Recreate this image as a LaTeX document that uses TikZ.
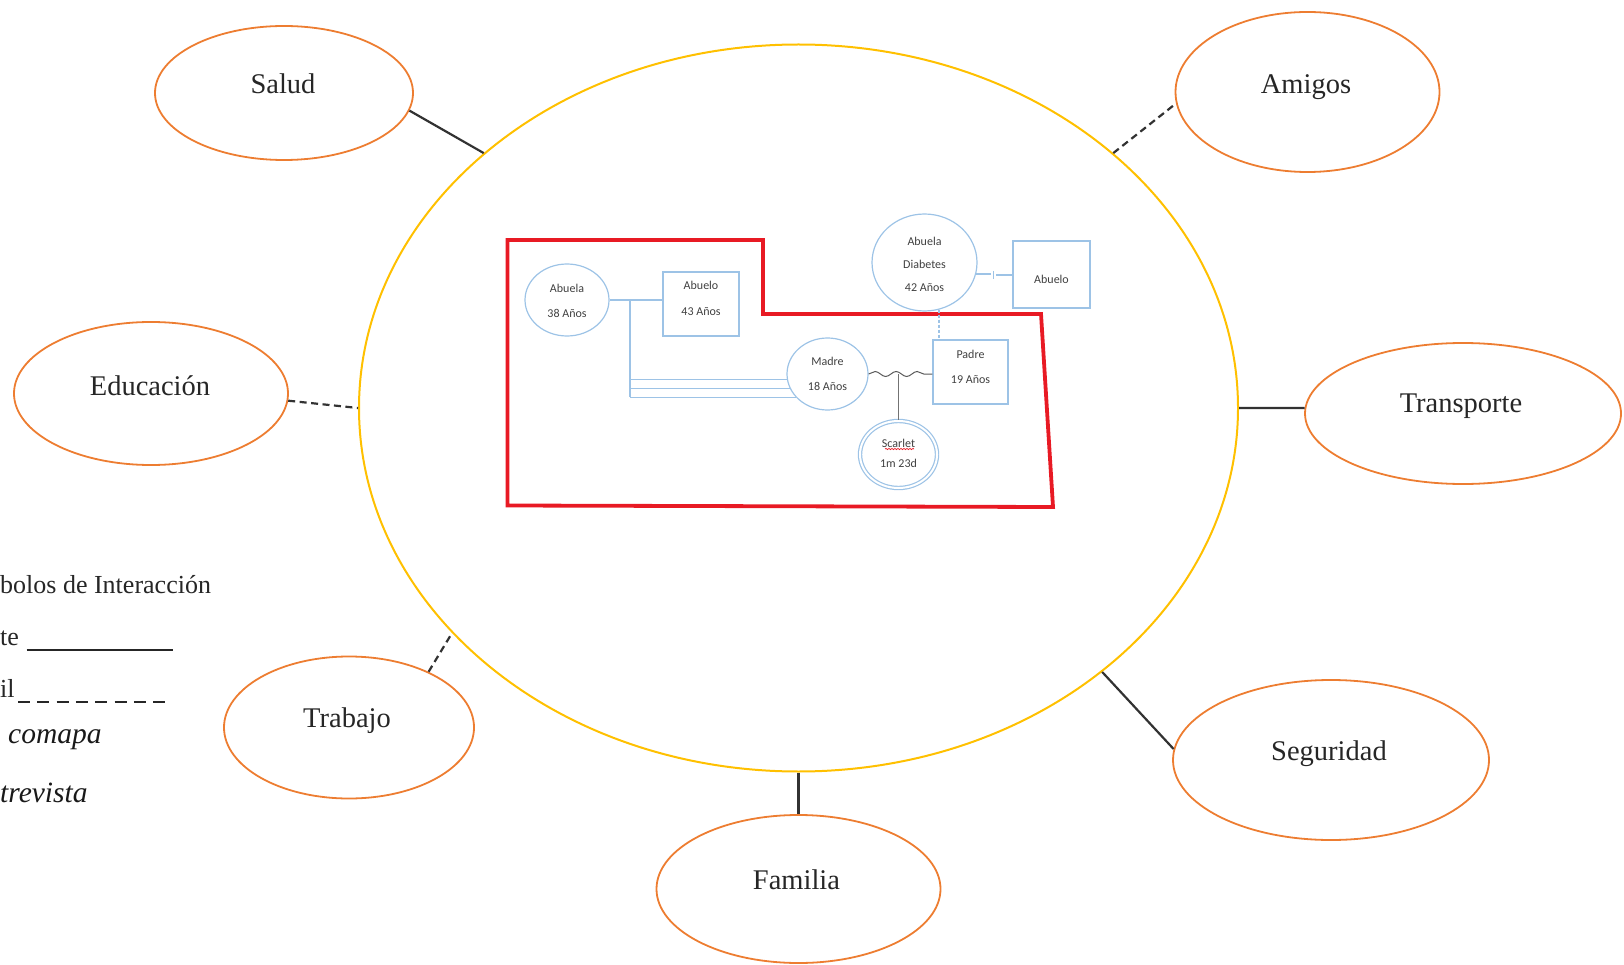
\documentclass[tikz,border=0pt]{standalone}
\usepackage{fontspec}
\setmainfont{Liberation Serif}
\newfontfamily\carlito{Carlito}
\usetikzlibrary{shapes.geometric,decorations.pathmorphing}
\definecolor{orng}{RGB}{237,125,49}
\definecolor{yel}{RGB}{255,192,0}
\definecolor{gblue}{RGB}{157,195,230}
\definecolor{redl}{RGB}{232,26,36}
\definecolor{conn}{RGB}{50,50,50}
\begin{document}
\begin{tikzpicture}[x=1pt,y=-1pt,
  sat/.style={ellipse,draw=orng,line width=1.8pt,inner sep=0pt},
  lab/.style={font=\fontsize{28.5}{30}\selectfont,text=black!85,inner sep=0pt,anchor=base},
  con/.style={draw=conn,line width=2.2pt},
  dsh/.style={con,dash pattern=on 7pt off 4.5pt},
  gen/.style={draw=gblue,line width=1.2pt,inner sep=0pt},
  gdbl/.style={draw=gblue,line width=1.8pt},
  gcirc/.style={gen,ellipse},
  gbox/.style={gen,rectangle},
  gt/.style={font=\carlito\fontsize{12}{13}\selectfont,text=black!75,inner sep=0pt},
  leg/.style={font=\fontsize{26}{28}\selectfont,text=black!85,inner sep=0pt,anchor=base west},
  legi/.style={font=\itshape\fontsize{29.5}{31}\selectfont,text=black!90,inner sep=0pt,anchor=base west}]
\useasboundingbox (0,0) rectangle (1624,965);

% central ecomap circle
\node[ellipse,draw=yel,line width=2pt,minimum width=879pt,minimum height=727pt,inner sep=0pt] (eco) at (798.5,408) {};

% satellites
\node[sat,minimum width=258pt,minimum height=134pt] (salud) at (284,93) {};
\node[lab] (tsalud) at (283,94) {Salud};
\node[sat,minimum width=264pt,minimum height=160pt] (amigos) at (1307.5,92) {};
\node[lab] (tamigos) at (1306,94) {Amigos};
\node[sat,minimum width=274pt,minimum height=143pt] (educ) at (151,393.5) {};
\node[lab] (teduc) at (150,395) {Educación};
\node[sat,minimum width=316pt,minimum height=141pt] (transp) at (1463,413.5) {};
\node[lab] (ttransp) at (1461,412) {Transporte};
\node[sat,minimum width=250pt,minimum height=142pt] (trabajo) at (349,727.5) {};
\node[lab] (ttrabajo) at (347,727) {Trabajo};
\node[sat,minimum width=316pt,minimum height=160pt] (segur) at (1331,760) {};
\node[lab] (tsegur) at (1329,760) {Seguridad};
\node[sat,minimum width=284pt,minimum height=148pt] (familia) at (798.5,889) {};
\node[lab] (tfamilia) at (796.5,889) {Familia};

% connectors
\draw[con] (salud.-8) -- (eco.141.4);
\draw[dsh] (eco.39.6) -- (amigos.185.3);
\draw[dsh] (educ.-3.5) -- (eco.180);
\draw[con] (eco.0) -- (transp.178);
\draw[dsh] (trabajo.35.2) -- (eco.213.5);
\draw[con] (eco.-41.9) -- (segur.176.7);
\draw[con] (eco.270) -- (familia.90);

% genogram boundary
\draw[draw=redl,line width=3.8pt,line join=miter] (507.5,240) -- (763,240) -- (763,314) -- (1041,314) -- (1053,507) -- (507.5,505.5) -- cycle;

% genogram members
\node[gcirc,minimum width=84pt,minimum height=72pt] (abuelaL) at (567,300) {};
\node[gt] (tabuelaL1) at (567,288) {Abuela};
\node[gt] (tabuelaL2) at (567,313) {38 Años};
\node[gbox,minimum width=76pt,minimum height=64pt] (abueloL) at (701,304) {};
\node[gt] (tabueloL1) at (701,285) {Abuelo};
\node[gt] (tabueloL2) at (701,312) {43 Años};
\node[gcirc,minimum width=81pt,minimum height=72pt] (madre) at (827.5,374) {};
\node[gt] (tmadre1) at (827.5,361) {Madre};
\node[gt] (tmadre2) at (827.5,386) {18 Años};
\node[gbox,minimum width=75pt,minimum height=64pt] (padre) at (970.5,372) {};
\node[gt] (tpadre1) at (970.5,354) {Padre};
\node[gt] (tpadre2) at (970.5,380) {19 Años};
\node[gcirc,double,double distance=2pt,minimum width=77pt,minimum height=67pt] (scarlet) at (898.5,454.5) {};
\node[gt] (tscarlet1) at (898.5,443) {Scarlet};
\node[gt] (tscarlet2) at (898.5,463) {1m 23d};
\node[gcirc,minimum width=105pt,minimum height=97pt] (abuelaR) at (924.5,262.5) {};
\node[gt] (tabuelaR1) at (924.5,241) {Abuela};
\node[gt] (tabuelaR2) at (924.5,264) {Diabetes};
\node[gt] (tabuelaR3) at (924.5,288) {42 Años};
\node[gbox,minimum width=77pt,minimum height=67pt] (abueloR) at (1051.5,274.5) {};
\node[gt] (tabueloR) at (1051.5,279) {Abuelo};

% spell-check squiggle under Scarlet
\draw[redl,line width=0.7pt,decorate,decoration={snake,segment length=3pt,amplitude=0.6pt}] (885,449) -- (914,449);

% genogram relations
\coordinate (j) at (630,300);
\draw[gdbl] (abuelaL.east) -- (abuelaL.east -| abueloL.west);
\draw[gen] (j) -- (madre.216 -| j);
\draw[gen] (madre.188) -- (madre.188 -| j);
\draw[gen] (madre.201) -- (madre.201 -| j);
\draw[gen] (madre.216) -- (madre.216 -| j);
\draw[decorate,decoration={snake,segment length=21pt,amplitude=2.5pt},draw=black!65,line width=1pt] (madre.east) -- (madre.east -| padre.west);
\coordinate (mid) at (898.5,374);
\draw[draw=black!55,line width=1.8pt] (mid) -- (scarlet.north);
\coordinate (b1) at (991,275);
\coordinate (b2) at (996,275);
\draw[gdbl] (abuelaR.-13.8) -- (abuelaR.-13.8 -| b1);
\draw[gdbl] (b2) -- (b2 -| abueloR.west);
\draw[gen] (993.5,271) -- (993.5,279);
\draw[gen,dash pattern=on 3pt off 2pt] (abuelaR.-73) -- (abuelaR.-73 |- padre.north);

% legend (cut at left edge)
\node[leg] (l1) at (0,593) {bolos de Interacción};
\node[leg] (l2) at (0,645) {te};
\draw[line width=1.8pt,black!85] (26.7,650) -- (173,650);
\node[leg] (l3) at (0,697) {il};
\draw[line width=1.8pt,black!85,dash pattern=on 12pt off 7.3pt] (18,702) -- (166,702);
\node[legi] (l4) at (8,743) {comapa};
\node[legi] (l5) at (0,802) {trevista};
\end{tikzpicture}
\end{document}
